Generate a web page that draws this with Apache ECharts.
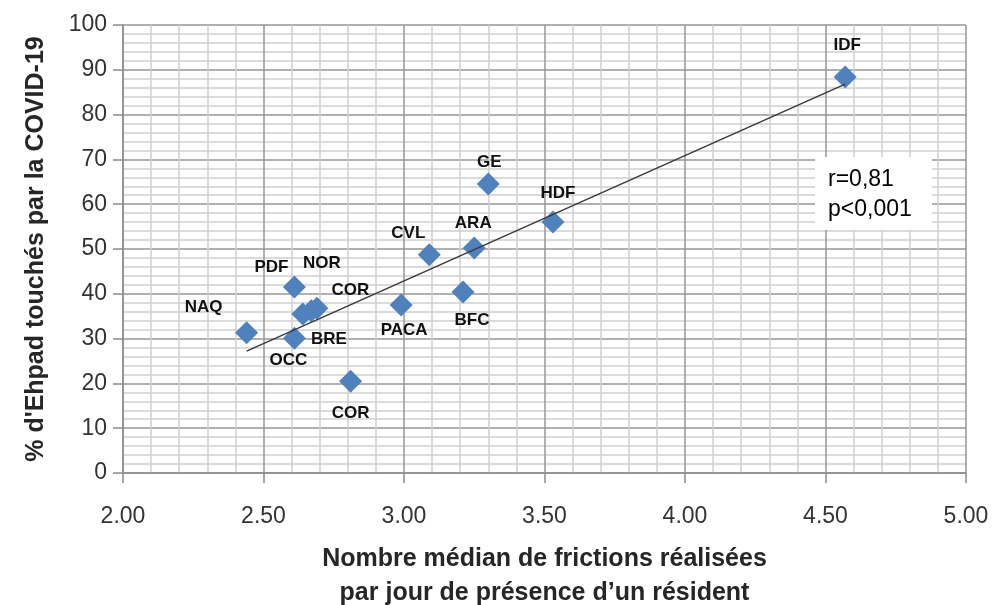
<!DOCTYPE html>
<html>
<head>
<meta charset="utf-8">
<script src="https://cdn.jsdelivr.net/npm/echarts@6/dist/echarts.min.js"></script>
<style>
  html, body { margin: 0; padding: 0; background: #fff; }
  #chart { width: 993px; height: 605px; }
</style>
</head>
<body>
<div id="chart"></div>
<script>
// regions (labels), median frictions per resident-day, % of Ehpad hit by COVID-19
const regions = ['IDF', 'GE', 'HDF', 'ARA', 'CVL', 'BFC', 'PACA', 'PDF', 'NOR', 'COR', 'BRE', 'OCC', 'NAQ', 'COR']
const frictions = [4.57, 3.30, 3.53, 3.25, 3.09, 3.21, 2.99, 2.61, 2.69, 2.67, 2.64, 2.61, 2.44, 2.81]
const ehpadPct = [88.4, 64.5, 56.0, 50.2, 48.7, 40.4, 37.5, 41.5, 36.8, 36.2, 35.5, 30.1, 31.3, 20.5]
// trend line end points
const trendX = [2.44, 4.57]
const trendY = [27.2, 86.8]
const statsText = ['r=0,81', 'p<0,001']

// label offsets in px, same order as regions
const labelOffsets = [[2, -32], [1, -22], [5, -29], [-1, -25], [-21, -22], [9, 28], [3, 25],
  [-23, -20], [5, -45], [39, -21], [26, 25], [-6, 22], [-43, -25], [0, 32]]

const font = 'Liberation Sans'
const chart = echarts.init(document.getElementById('chart'))

chart.setOption({
  animation: false,
  grid: { left: 123, right: 27, top: 25, bottom: 132, outerBoundsMode: 'none', containLabel: false },
  xAxis: {
    type: 'value',
    min: 2, max: 5, interval: 0.5,
    name: 'Nombre médian de frictions réalisées\npar jour de présence d’un résident',
    nameLocation: 'middle',
    nameGap: 69,
    nameTextStyle: { fontFamily: font, fontWeight: 'bold', fontSize: 25, color: '#262626', lineHeight: 34 },
    axisLine: { show: true, lineStyle: { color: '#8c8c8c', width: 1.5 } },
    axisTick: { show: true, length: 10, lineStyle: { color: '#8c8c8c', width: 1.5 } },
    axisLabel: {
      margin: 32, fontFamily: font, fontSize: 23, color: '#333',
      formatter: v => v.toFixed(2)
    },
    splitLine: { show: true, lineStyle: { color: '#969696', width: 1.5 } },
    minorTick: { show: false, splitNumber: 5 },
    minorSplitLine: { show: true, lineStyle: { color: '#cfcfcf', width: 1.5 } }
  },
  yAxis: {
    type: 'value',
    min: 0, max: 100, interval: 10,
    name: '% d\'Ehpad touchés par la COVID-19',
    nameLocation: 'middle',
    nameGap: 74,
    nameTextStyle: { fontFamily: font, fontWeight: 'bold', fontSize: 25, color: '#262626' },
    axisLine: { show: true, lineStyle: { color: '#8c8c8c', width: 1.5 } },
    axisTick: { show: true, length: 10, lineStyle: { color: '#8c8c8c', width: 1.5 } },
    axisLabel: { margin: 16, fontFamily: font, fontSize: 23, color: '#333' },
    splitLine: { show: true, lineStyle: { color: '#969696', width: 1.5 } },
    minorTick: { show: false, splitNumber: 5 },
    minorSplitLine: { show: true, lineStyle: { color: '#cfcfcf', width: 1.5 } }
  },
  series: [
    {
      type: 'scatter',
      symbol: 'diamond',
      symbolSize: 23,
      itemStyle: { color: '#4f81bd', opacity: 1 },
      z: 2,
      label: {
        show: true,
        position: 'inside',
        fontFamily: font, fontWeight: 'bold', fontSize: 17, color: '#111',
        formatter: p => p.name
      },
      data: regions.map((r, i) => ({
        name: r,
        value: [frictions[i], ehpadPct[i]],
        label: { offset: labelOffsets[i] }
      }))
    },
    {
      type: 'line',
      z: 3,
      symbol: 'none',
      silent: true,
      lineStyle: { color: '#3a3a3a', width: 1.5 },
      data: trendX.map((x, i) => [x, trendY[i]])
    }
  ],
  graphic: [
    {
      type: 'rect',
      shape: { x: 815, y: 157, width: 117, height: 73 },
      style: { fill: '#fff' },
      z: 10
    },
    {
      type: 'text',
      x: 828, y: 165,
      style: { text: statsText.join('\n'), fontFamily: font, fontSize: 23, lineHeight: 30, fill: '#000' },
      z: 11
    }
  ]
})
</script>
</body>
</html>
